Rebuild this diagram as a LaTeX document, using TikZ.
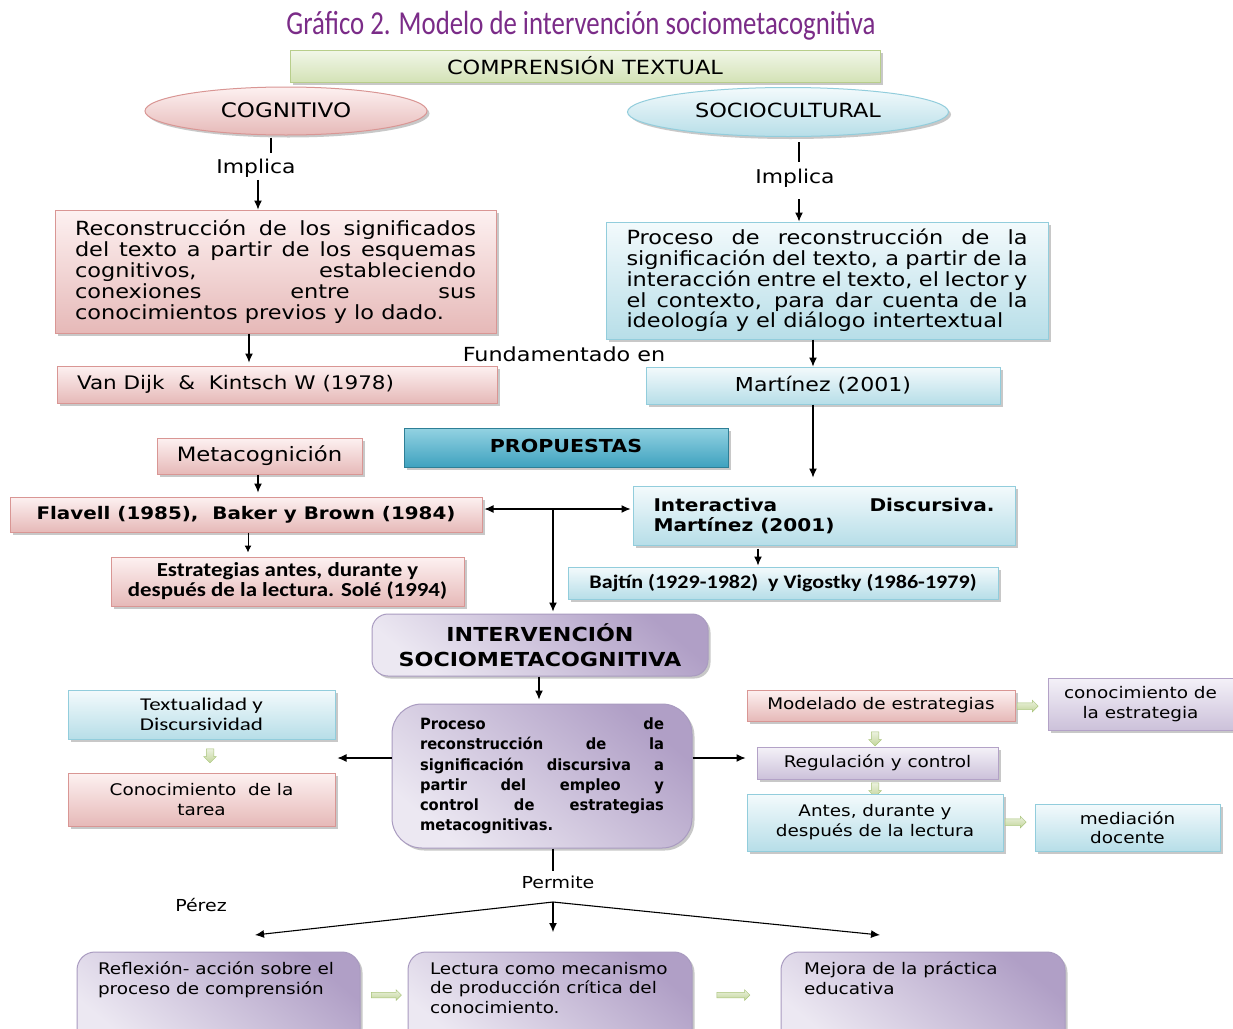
\documentclass[tikz,border=0pt]{standalone}
\usepackage{fontspec}
\setmainfont{DejaVu Sans}[FakeStretch=1.15]
\newfontfamily\calf{Carlito}[FakeStretch=1.15]
\newfontfamily\calw{Carlito}[FakeStretch=1.28]
\newfontfamily\narf{DejaVu Sans}[FakeStretch=0.95]
\newfontfamily\titf{Carlito}[FakeStretch=0.8]
\usetikzlibrary{shapes.geometric,shapes.arrows,shadows,arrows.meta,calc}

\newcommand\fs[2]{\fontsize{#1}{#2}\selectfont\spaceskip=0pt\xspaceskip=0pt\relax}
\newcommand\jl[1]{\makebox[\linewidth][s]{\spaceskip=0.1em plus 1fil\relax #1}\\}

\definecolor{pinkT}{HTML}{FDF1F1}
\definecolor{pinkB}{HTML}{E6B9B8}
\definecolor{pinkD}{HTML}{D99694}
\definecolor{blueT}{HTML}{F3FAFC}
\definecolor{blueB}{HTML}{B7DEE8}
\definecolor{blueD}{HTML}{92CDDC}
\definecolor{purT}{HTML}{F4F1F8}
\definecolor{purB}{HTML}{CCC1DA}
\definecolor{purD}{HTML}{B3A2C7}
\definecolor{rpDark}{HTML}{B09FC6}
\definecolor{rpLight}{HTML}{ECE8F2}
\definecolor{rpD}{HTML}{A99BC0}
\definecolor{grT}{HTML}{F2F7E9}
\definecolor{grB}{HTML}{D3E2B6}
\definecolor{grD}{HTML}{B8CE8B}
\definecolor{tealT}{HTML}{93D2E2}
\definecolor{tealB}{HTML}{3FA2BF}
\definecolor{tealD}{HTML}{2E7F96}
\definecolor{gaT}{HTML}{EBF1DE}
\definecolor{gaB}{HTML}{C3D69B}
\definecolor{gaD}{HTML}{A9C47A}
\definecolor{titc}{HTML}{7B2C88}

\tikzset{
  base/.style={draw, line width=1pt, inner sep=0pt,
    drop shadow={shadow xshift=2.5pt, shadow yshift=-2.5pt, opacity=0.3, fill=black!70}},
  pinkbox/.style={base, draw=pinkD, top color=pinkT, bottom color=pinkB},
  bluebox/.style={base, draw=blueD, top color=blueT, bottom color=blueB},
  purbox/.style={base, draw=purD, top color=purT, bottom color=purB},
  greenbox/.style={base, draw=grD, top color=grT, bottom color=grB},
  tealbox/.style={base, draw=tealD, top color=tealT, bottom color=tealB},
  rpur/.style={base, draw=rpD, rounded corners=18pt, top color=rpDark, bottom color=rpLight, shading angle=-40},
  lab/.style={inner sep=1pt},
  ln/.style={line width=1.1pt},
  arr/.style={line width=1.1pt, -{Latex[length=9pt,width=8pt]}},
  garr/.style={single arrow, draw=gaD, line width=0.5pt, top color=gaT, bottom color=gaB,
    inner sep=3pt, single arrow head extend=2.5pt, minimum height=21pt},
  garrd/.style={garr, shape border rotate=270, inner sep=3.5pt, minimum height=14pt},
}

\begin{document}
\begin{tikzpicture}[x=1pt,y=-1pt]
\fill[white] (0,0) rectangle (1233,1028);
\useasboundingbox (0,0) rectangle (1233,1028);

% title and top
\node[lab] (title) at (581,26) {\titf\fs{33.5}{36}\color{titc}Gráfico 2. Modelo de intervención sociometacognitiva};
\node[greenbox, minimum width=590pt, minimum height=32pt] (comp) at (585,66) {\raisebox{1.5pt}{\fs{19.5}{22}COMPRENSIÓN TEXTUAL}};

\node[ellipse, pinkbox, minimum width=282pt, minimum height=48pt] (cog) at (286,111) {\raisebox{2.5pt}{\fs{20}{22}COGNITIVO}};
\node[ellipse, bluebox, minimum width=321pt, minimum height=49pt] (soc) at (788,112) {\raisebox{3pt}{\fs{19.5}{22}SOCIOCULTURAL}};

\node[lab] (imp1) at (256,168) {\fs{19}{20}Implica};
\node[lab] (imp2) at (795,178) {\fs{19}{20}Implica};

\node[pinkbox, minimum width=441pt, minimum height=123pt] (recon) at (275.5,271.5)
  {\parbox{401pt}{\fs{19.5}{21}\jl{Reconstrucción de los significados}\jl{del texto a partir de los esquemas}\jl{cognitivos, estableciendo}\jl{conexiones entre sus}conocimientos previos y lo dado.}};

\node[bluebox, minimum width=442pt, minimum height=117pt] (proc) at (827,280.5)
  {\parbox{401pt}{\fs{19.5}{20.8}\jl{Proceso de reconstrucción de la}\jl{significación del texto, a partir de la}\jl{interacción entre el texto, el lector y}\jl{el contexto, para dar cuenta de la}ideología y el diálogo intertextual}};

\node[pinkbox, minimum width=440pt, minimum height=37pt] (vandijk) at (277,384.5)
  {\makebox[400pt][l]{\fs{18.7}{20}Van Dijk~~\&~~Kintsch W (1978)}};
\node[lab] (fund) at (564,354) {\fs{19.4}{20}Fundamentado en};
\node[bluebox, minimum width=354pt, minimum height=37pt] (mart) at (823,385.5) {\fs{19.2}{20}Martínez (2001)};

% propuestas row
\node[tealbox, minimum width=324pt, minimum height=39pt] (prop) at (566,447.5) {\raisebox{3pt}{\bfseries\fs{17.9}{20}PROPUESTAS}};
\node[pinkbox, minimum width=205pt, minimum height=36pt] (meta) at (259.5,456) {\fs{19.8}{20}Metacognición};
\node[pinkbox, minimum width=472pt, minimum height=35pt] (flav) at (246,514.5) {\bfseries\fs{17.3}{20}Flavell (1985),~~Baker y Brown (1984)};
\node[bluebox, minimum width=382pt, minimum height=59pt] (inter) at (824,515.5)
  {\parbox{341pt}{\bfseries\fs{17.5}{20}\jl{Interactiva Discursiva.}Martínez (2001)}};
\node[pinkbox, minimum width=353pt, minimum height=49pt, align=center, font=\calf\bfseries\fs{19.9}{20}] (estr) at (287.5,581.5)
  {Estrategias antes, durante y\\después de la lectura. Solé (1994)};
\node[bluebox, minimum width=430pt, minimum height=32pt] (bajt) at (783,583)
  {\calf\bfseries\fs{19.2}{20}Bajtín (1929-1982)~~y Vigostky (1986-1979)};

\node[rpur, rounded corners=16pt, minimum width=336pt, minimum height=62pt, align=center, font=\bfseries\fs{19.3}{25}] (interv) at (540,645)
  {INTERVENCIÓN\\SOCIOMETACOGNITIVA};

\node[rpur, rounded corners=30pt, minimum width=300pt, minimum height=144pt] (cproc) at (542,776)
  {\parbox{244pt}{\narf\bfseries\fs{15.5}{20.3}\jl{Proceso de}\jl{reconstrucción de la}\jl{significación discursiva a}\jl{partir del empleo y}\jl{control de estrategias}metacognitivas.}};

% left column
\node[bluebox, minimum width=267pt, minimum height=49pt, align=center, font=\calw\fs{18}{19.5}] (textu) at (201.5,714.5)
  {Textualidad y\\Discursividad};
\node[garrd] (ga1) at (210,754) {};
\node[pinkbox, minimum width=267pt, minimum height=53pt, align=center, font=\fs{16}{20}] (tarea) at (201.5,799.5)
  {Conocimiento~~de la\\tarea};

% right column
\node[pinkbox, minimum width=268pt, minimum height=31pt] (model) at (881,705.5) {\fs{16}{20}Modelado de estrategias};
\node[garr] (ga2) at (1026,706) {};
\node[purbox, minimum width=185pt, minimum height=52pt, align=center, font=\fs{16}{20}] (conest) at (1140.5,704)
  {conocimiento de\\la estrategia};
\node[garrd] (ga3) at (875,737) {};
\node[purbox, minimum width=241pt, minimum height=32pt] (regul) at (877.5,763) {\fs{16}{20}Regulación y control};
\node[garrd] (ga4) at (875,788) {};
\node[bluebox, minimum width=256pt, minimum height=57pt, align=center, font=\fs{16}{20}] (antes) at (875,822.5)
  {Antes, durante y\\después de la lectura};
\node[garr] (ga5) at (1014,822) {};
\node[bluebox, minimum width=185pt, minimum height=47pt, align=center, font=\fs{16}{19}] (media) at (1127.5,827.5)
  {mediación\\docente};

% bottom
\node[lab] (permite) at (558,882) {\fs{16.5}{20}Permite};
\node[lab] (perez) at (201,905) {\fs{16.5}{20}Pérez};

\node[rpur, minimum width=283pt, minimum height=95pt] (refl) at (218.5,999.5)
  {\parbox[c][75pt][t]{241pt}{\fs{16}{20}Reflexión- acción sobre el\\proceso de comprensión}};
\node[rpur, minimum width=284pt, minimum height=95pt] (lect) at (550,999.5)
  {\parbox[c][75pt][t]{240pt}{\fs{16}{19.5}Lectura como mecanismo\\de producción crítica del\\conocimiento.}};
\node[rpur, minimum width=284pt, minimum height=95pt] (mejora) at (923,999.5)
  {\parbox[c][75pt][t]{238pt}{\fs{16}{20}Mejora de la práctica\\educativa}};
\node[garr, minimum height=30pt, inner sep=2.5pt] (ga6) at (385,995) {};
\node[garr, minimum height=33pt, inner sep=2.5pt] (ga7) at (732,995) {};

% connectors
\draw[ln] ([xshift=-15pt,yshift=-2pt]cog.south) -- ++(0,15);
\draw[arr] ([xshift=2pt,yshift=-1.5pt]imp1.south) -- ([xshift=2pt]imp1.south |- recon.north);
\draw[ln] ([xshift=11pt,yshift=-5pt]soc.south) -- ++(0,20);
\draw[arr] ([xshift=4pt,yshift=-11pt]imp2.south) -- ([xshift=4pt]imp2.south |- proc.north);

\draw[arr, shorten >=3pt] ([xshift=-26.5pt]recon.south) -- ([xshift=-26.5pt]recon.south |- vandijk.north);
\draw[arr] ([xshift=-14pt]proc.south) -- ([xshift=-14pt]proc.south |- mart.north);
\draw[arr, shorten >=8pt] ([xshift=-10pt]mart.south) -- ([xshift=-10pt]mart.south |- inter.north);

\draw[arr, shorten >=4pt] ([xshift=-1.5pt]meta.south) -- ([xshift=-1.5pt]meta.south |- flav.north);
\draw[line width=1.1pt, {Latex[length=9pt,width=8pt]}-{Latex[length=9pt,width=8pt]}, shorten <=2pt, shorten >=2pt]
  ([yshift=5.5pt]flav.east) -- ([yshift=5.5pt]flav.east -| inter.west);
\coordinate (j1) at (553,509);
\draw[arr, shorten >=2pt] (j1) -- (j1 |- interv.north);
\draw[line width=1pt, -{Latex[length=7pt,width=7pt]}, shorten >=4pt] ([xshift=2pt]flav.south) -- ([xshift=2pt]flav.south |- estr.north);
\draw[arr, shorten >=1pt] ([xshift=-66pt,yshift=-3pt]inter.south) -- ([xshift=-66pt]inter.south |- bajt.north);

\draw[arr, shorten >=4pt] ([xshift=-1pt]interv.south) -- ([xshift=-1pt]interv.south |- cproc.north);
\draw[arr] ([yshift=18pt]cproc.west) -- ++(-54,0);
\draw[arr] ([yshift=18pt]cproc.east) -- ++(53,0);
\draw[ln] ([xshift=11pt]cproc.south) -- ++(0,22);

\coordinate (j2) at (553,902);
\coordinate (t1) at (255,935);
\coordinate (t2) at (553,932);
\coordinate (t3) at (880,935);
\draw[arr] (j2) -- (t1);
\draw[arr] (j2) -- (t2);
\draw[arr] (j2) -- (t3);
\end{tikzpicture}
\end{document}
